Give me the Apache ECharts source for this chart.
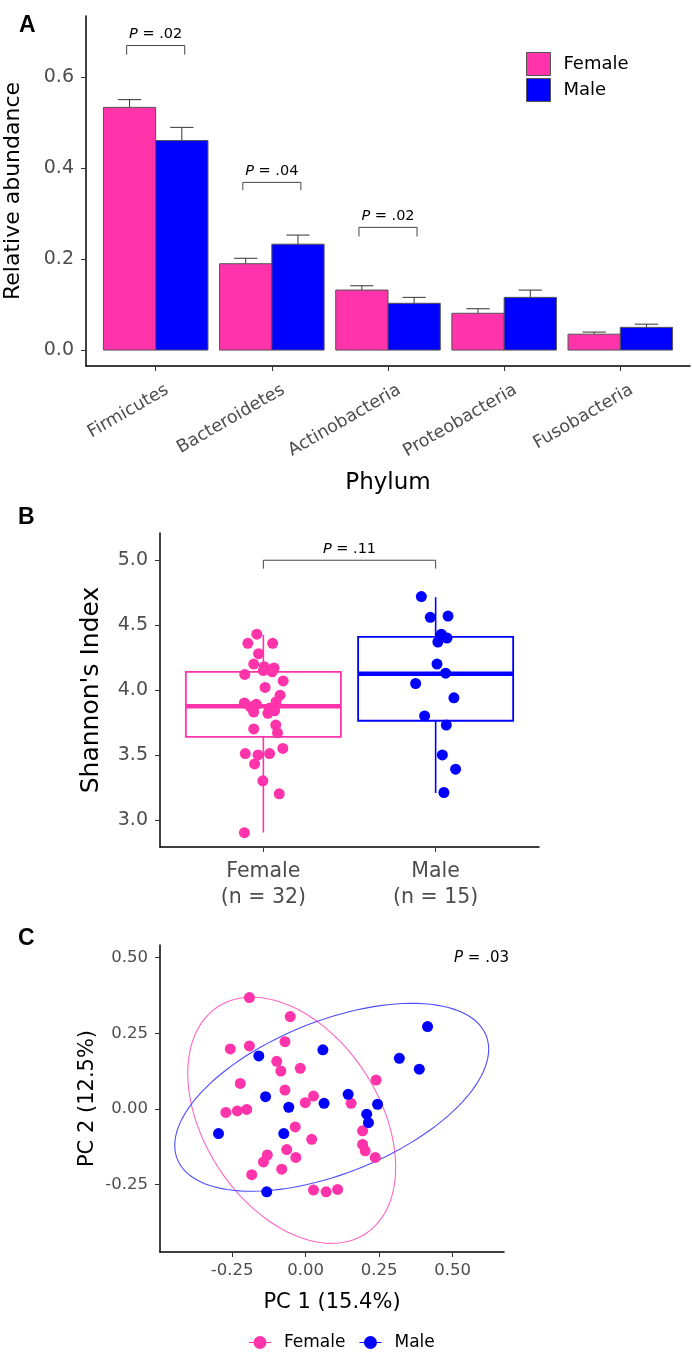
<!DOCTYPE html>
<html><head><meta charset="utf-8">
<script src="https://cdn.jsdelivr.net/npm/echarts@6/dist/echarts.min.js"></script>
<style>html,body{margin:0;padding:0;background:#fff}#c{width:692px;height:1355px}</style>
</head><body><div id="c"></div>
<script>
// ---------- Panel A data ----------
const phyla = ['Firmicutes', 'Bacteroidetes', 'Actinobacteria', 'Proteobacteria', 'Fusobacteria'];
const femaleMean = [0.534, 0.190, 0.132, 0.081, 0.035];
const femaleErrTop = [0.551, 0.202, 0.1415, 0.091, 0.0396];
const maleMean = [0.461, 0.233, 0.103, 0.116, 0.050];
const maleErrTop = [0.490, 0.253, 0.116, 0.132, 0.057];
const bracketCats = [1, 2, 3];
const bracketTop = [0.670, 0.369, 0.270];
const bracketFoot = [0.650, 0.352, 0.250];
const bracketP = ['.02', '.04', '.02'];
const abundanceTicks = [0, 0.2, 0.4, 0.6];

// ---------- Panel B data ----------
const groupLabels = ['Female\n(n = 32)', 'Male\n(n = 15)'];
const femaleBox = [2.902, 3.638, 3.874, 4.139, 4.426];
const maleBox = [3.206, 3.763, 4.126, 4.409, 4.715];
const femaleShannon = [[-0.038,4.43],[-0.090,4.36],[0.054,4.36],[-0.028,4.28],[-0.056,4.20],[0.005,4.18],[0.062,4.17],[0.051,4.14],[-0.108,4.12],[0.000,4.15],[0.115,4.07],[0.010,4.02],[0.097,3.96],[-0.110,3.90],[-0.041,3.89],[0.074,3.91],[0.036,3.86],[-0.075,3.87],[-0.056,3.83],[0.026,3.82],[0.065,3.84],[-0.056,3.70],[0.072,3.73],[0.082,3.67],[-0.105,3.51],[-0.031,3.50],[0.036,3.51],[0.113,3.55],[-0.051,3.43],[-0.003,3.30],[0.092,3.20],[-0.110,2.90]];
const maleShannon = [[-0.083,4.72],[-0.031,4.56],[0.072,4.57],[0.033,4.43],[0.066,4.40],[0.013,4.37],[0.008,4.20],[0.058,4.13],[-0.116,4.05],[0.106,3.94],[-0.064,3.80],[0.062,3.73],[0.039,3.50],[0.116,3.39],[0.048,3.21]];
const shannonTicks = [3.0, 3.5, 4.0, 4.5, 5.0];
const shannonBracket = [5.0, 4.935];
const shannonP = '.11';

// ---------- Panel C data ----------
const femalePC = [[-0.191,0.368],[-0.052,0.305],[-0.256,0.198],[-0.191,0.208],[-0.070,0.222],[-0.098,0.157],[-0.084,0.125],[-0.018,0.134],[0.240,0.095],[-0.222,0.084],[-0.070,0.062],[0.027,0.042],[-0.001,0.020],[0.155,0.018],[-0.271,-0.012],[-0.232,-0.007],[-0.200,-0.002],[-0.035,-0.060],[0.021,-0.101],[0.194,-0.073],[0.194,-0.118],[0.203,-0.139],[0.237,-0.161],[-0.064,-0.135],[-0.033,-0.161],[-0.130,-0.153],[-0.143,-0.176],[-0.081,-0.200],[-0.183,-0.218],[0.027,-0.269],[0.070,-0.275],[0.109,-0.267]];
const malePC = [[0.415,0.272],[0.319,0.167],[0.387,0.131],[0.059,0.195],[-0.159,0.175],[-0.136,0.040],[-0.057,0.005],[0.063,0.018],[0.145,0.048],[0.245,0.015],[0.208,-0.018],[0.214,-0.046],[-0.296,-0.082],[-0.074,-0.082],[-0.132,-0.275]];
// ellipse: centre x, centre y, var x, var y, cov xy (read from the drawn ellipses)
const femaleEllipse = [-0.047, -0.038, 0.125, 0.166, -0.055];
const maleEllipse = [0.089, 0.038, 0.285, 0.0967, 0.085];
const pcTicks = [-0.25, 0, 0.25, 0.5];
const pcP = '.03';

// ---------- styles ----------
const FONT = 'DejaVu Sans';
const PINK = '#FF33AA';
const BLUE = '#0000FF';
const TICKC = '#4D4D4D';
const LABEL_SHIFT = 0.06; // rotated phylum labels sit slightly right of their ticks

function axis(extra) {
  const base = {
    axisLine: {show: true, onZero: false, lineStyle: {color: '#000', width: 1.5}},
    axisTick: {show: true, length: 5, lineStyle: {color: '#333', width: 1}},
    splitLine: {show: false},
    nameTextStyle: {fontFamily: FONT, color: '#000'}
  };
  return Object.assign(base, extra);
}

function barRender(offset, color) {
  return function (params, api) {
    const c = api.value(0), m = api.value(1), e = api.value(2);
    const x = c + offset;
    const p0 = api.coord([x - 0.225, 0]);
    const p1 = api.coord([x + 0.225, m]);
    const pm = api.coord([x, m]);
    const pe = api.coord([x, e]);
    const cl = api.coord([x - 0.1, e]);
    const cr = api.coord([x + 0.1, e]);
    return {type: 'group', children: [
      {type: 'line', shape: {x1: pm[0], y1: pm[1], x2: pe[0], y2: pe[1]}, style: {stroke: '#333', lineWidth: 1}},
      {type: 'line', shape: {x1: cl[0], y1: cl[1], x2: cr[0], y2: cr[1]}, style: {stroke: '#333', lineWidth: 1}},
      {type: 'rect', shape: {x: p0[0], y: p1[1], width: p1[0] - p0[0], height: p0[1] - p1[1]}, style: {fill: color, stroke: '#555', lineWidth: 1}}
    ]};
  };
}

function bracketRender(labels, fs) {
  return function (params, api) {
    const x1 = api.value(0), x2 = api.value(1), top = api.value(2), foot = api.value(3);
    const a = api.coord([x1, foot]), b = api.coord([x1, top]), c = api.coord([x2, top]), d = api.coord([x2, foot]);
    return {type: 'group', children: [
      {type: 'polyline', shape: {points: [a, b, c, d]}, style: {stroke: '#444', lineWidth: 1, fill: null}},
      {type: 'text', x: (b[0] + c[0]) / 2, y: b[1] - 4,
        style: {text: '{i|P} = ' + labels[params.dataIndex], align: 'center', verticalAlign: 'bottom',
          textAlign: 'center', textVerticalAlign: 'bottom',
          fontSize: fs, fontFamily: FONT, fill: '#000',
          rich: {i: {fontStyle: 'italic', fontSize: fs, fontFamily: FONT, fill: '#000'}}}}
    ]};
  };
}

function boxRender(color) {
  return function (params, api) {
    const x = api.value(0), mn = api.value(1), q1 = api.value(2), md = api.value(3), q3 = api.value(4), mx = api.value(5);
    const a = api.coord([x - 0.45, q3]), b = api.coord([x + 0.45, q1]);
    const ml = api.coord([x - 0.45, md]), mr = api.coord([x + 0.45, md]);
    const wmin = api.coord([x, mn]), wq1 = api.coord([x, q1]), wq3 = api.coord([x, q3]), wmax = api.coord([x, mx]);
    return {type: 'group', children: [
      {type: 'line', shape: {x1: wq3[0], y1: wq3[1], x2: wmax[0], y2: wmax[1]}, style: {stroke: color, lineWidth: 1.6}},
      {type: 'line', shape: {x1: wq1[0], y1: wq1[1], x2: wmin[0], y2: wmin[1]}, style: {stroke: color, lineWidth: 1.6}},
      {type: 'rect', shape: {x: a[0], y: a[1], width: b[0] - a[0], height: b[1] - a[1]}, style: {fill: 'rgba(255,255,255,0)', stroke: color, lineWidth: 1.8}},
      {type: 'line', shape: {x1: ml[0], y1: ml[1], x2: mr[0], y2: mr[1]}, style: {stroke: color, lineWidth: 4.5}}
    ]};
  };
}

function ellipseRender(color) {
  return function (params, api) {
    const cx = api.value(0), cy = api.value(1), sxx = api.value(2), syy = api.value(3), sxy = api.value(4);
    const l11 = Math.sqrt(sxx), l21 = sxy / l11, l22 = Math.sqrt(syy - l21 * l21);
    const pts = [];
    for (let k = 0; k <= 120; k++) {
      const t = 2 * Math.PI * k / 120;
      const u = Math.cos(t), v = Math.sin(t);
      pts.push(api.coord([cx + l11 * u, cy + l21 * u + l22 * v]));
    }
    return {type: 'polyline', shape: {points: pts}, style: {stroke: color, lineWidth: 1.1, fill: null}};
  };
}

// build rows
const femaleBars = phyla.map((p, i) => [i + 1, femaleMean[i], femaleErrTop[i]]);
const maleBars = phyla.map((p, i) => [i + 1, maleMean[i], maleErrTop[i]]);
const bracketRows = bracketCats.map((c, i) => [c - 0.25, c + 0.25, bracketTop[i], bracketFoot[i]]);
const femaleShannonPts = femaleShannon.map(d => [1 + d[0], d[1]]);
const maleShannonPts = maleShannon.map(d => [2 + d[0], d[1]]);
const phylumTickPos = phyla.map((p, i) => i + 1);
const phylumLabelPos = phyla.map((p, i) => i + 1 + LABEL_SHIFT);

const legendIconC = 'path://M0,6 L22,6 L22,7 L0,7 Z M4.5,6.5 A6.5,6.5 0 1 1 17.5,6.5 A6.5,6.5 0 1 1 4.5,6.5 Z';
const panelLetter = {fontFamily: 'Liberation Sans', fontWeight: 'bold', fontSize: 23, color: '#000'};

const option = {
  animation: false,
  backgroundColor: '#fff',
  title: [
    {text: 'A', left: 19, top: 14, padding: 0, textStyle: panelLetter},
    {text: 'B', left: 18, top: 506, padding: 0, textStyle: panelLetter},
    {text: 'C', left: 18, top: 927, padding: 0, textStyle: panelLetter}
  ],
  legend: [
    {orient: 'vertical', left: 526, top: 52, padding: 0, itemWidth: 24, itemHeight: 23, itemGap: 2, selectedMode: false,
      textStyle: {fontFamily: FONT, fontSize: 18, color: '#000', padding: [0, 0, 0, 8]},
      data: [
        {name: 'Female', icon: 'rect', itemStyle: {color: PINK, borderColor: '#555', borderWidth: 1}},
        {name: 'Male', icon: 'rect', itemStyle: {color: BLUE, borderColor: '#555', borderWidth: 1}}
      ]},
    {orient: 'horizontal', left: 249, top: 1334, padding: 0, itemWidth: 22, itemHeight: 13, itemGap: 14, selectedMode: false,
      textStyle: {fontFamily: FONT, fontSize: 17, color: '#000', padding: [0, 0, 0, 8]},
      data: [
        {name: 'Female', icon: legendIconC, itemStyle: {color: PINK, borderWidth: 0}},
        {name: 'Male', icon: legendIconC, itemStyle: {color: BLUE, borderWidth: 0}}
      ]}
  ],
  grid: [
    {left: 86, top: 16, width: 604, height: 350, outerBoundsMode: 'none', containLabel: false},
    {left: 160, top: 533, width: 379, height: 314, outerBoundsMode: 'none', containLabel: false},
    {left: 160, top: 945, width: 344, height: 307, outerBoundsMode: 'none', containLabel: false}
  ],
  xAxis: [
    axis({gridIndex: 0, type: 'value', min: 0.4, max: 5.6,
      name: 'Phylum', nameLocation: 'middle', nameGap: 106, nameTextStyle: {fontFamily: FONT, fontSize: 23, color: '#000'},
      axisTick: {show: true, length: 5, customValues: phylumTickPos, lineStyle: {color: '#333', width: 1}},
      axisLabel: {customValues: phylumLabelPos, rotate: 30, margin: 15, align: 'right', verticalAlign: 'top',
        fontFamily: FONT, fontSize: 17.5, color: TICKC,
        formatter: v => phyla[Math.round(v) - 1]}}),
    axis({gridIndex: 1, type: 'value', min: 0.4, max: 2.6,
      axisTick: {show: true, length: 5, customValues: [1, 2], lineStyle: {color: '#333', width: 1}},
      axisLabel: {customValues: [1, 2], margin: 12, fontFamily: FONT, fontSize: 20.5, color: TICKC, lineHeight: 26, align: 'center',
        formatter: v => groupLabels[Math.round(v) - 1]}}),
    axis({gridIndex: 2, type: 'value', min: -0.495, max: 0.675,
      name: 'PC 1 (15.4%)', nameLocation: 'middle', nameGap: 40, nameTextStyle: {fontFamily: FONT, fontSize: 21, color: '#000'},
      axisTick: {show: true, length: 5, customValues: pcTicks, lineStyle: {color: '#333', width: 1}},
      axisLabel: {customValues: pcTicks, margin: 10, fontFamily: FONT, fontSize: 16.5, color: TICKC,
        formatter: v => v.toFixed(2)}})
  ],
  yAxis: [
    axis({gridIndex: 0, type: 'value', min: -0.035, max: 0.735,
      name: 'Relative abundance', nameLocation: 'middle', nameGap: 62, nameTextStyle: {fontFamily: FONT, fontSize: 22, color: '#000'},
      axisTick: {show: true, length: 5, customValues: abundanceTicks, lineStyle: {color: '#333', width: 1}},
      axisLabel: {customValues: abundanceTicks, margin: 12, fontFamily: FONT, fontSize: 19, color: TICKC,
        formatter: v => v.toFixed(1)}}),
    axis({gridIndex: 1, type: 'value', min: 2.79, max: 5.21,
      name: "Shannon's Index", nameLocation: 'middle', nameGap: 56, nameTextStyle: {fontFamily: FONT, fontSize: 25, color: '#000'},
      axisTick: {show: true, length: 5, customValues: shannonTicks, lineStyle: {color: '#333', width: 1}},
      axisLabel: {customValues: shannonTicks, margin: 12, fontFamily: FONT, fontSize: 19, color: TICKC,
        formatter: v => v.toFixed(1)}}),
    axis({gridIndex: 2, type: 'value', min: -0.474, max: 0.542,
      name: 'PC 2 (12.5%)', nameLocation: 'middle', nameGap: 62, nameTextStyle: {fontFamily: FONT, fontSize: 21, color: '#000'},
      axisTick: {show: true, length: 5, customValues: pcTicks, lineStyle: {color: '#333', width: 1}},
      axisLabel: {customValues: pcTicks, margin: 12, fontFamily: FONT, fontSize: 16.5, color: TICKC,
        formatter: v => v.toFixed(2)}})
  ],
  series: [
    // Panel A
    {name: 'Female', type: 'custom', xAxisIndex: 0, yAxisIndex: 0, itemStyle: {color: PINK},
      renderItem: barRender(-0.225, PINK), data: femaleBars, encode: {x: 0, y: 1}},
    {name: 'Male', type: 'custom', xAxisIndex: 0, yAxisIndex: 0, itemStyle: {color: BLUE},
      renderItem: barRender(0.225, BLUE), data: maleBars, encode: {x: 0, y: 1}},
    {name: 'brackets', type: 'custom', xAxisIndex: 0, yAxisIndex: 0,
      renderItem: bracketRender(bracketP, 14.5), data: bracketRows, encode: {x: 0, y: 2}},
    // Panel B
    {name: 'Female', type: 'custom', xAxisIndex: 1, yAxisIndex: 1, itemStyle: {color: PINK},
      renderItem: boxRender(PINK), data: [[1].concat(femaleBox)], encode: {x: 0, y: 3}},
    {name: 'Male', type: 'custom', xAxisIndex: 1, yAxisIndex: 1, itemStyle: {color: BLUE},
      renderItem: boxRender(BLUE), data: [[2].concat(maleBox)], encode: {x: 0, y: 3}},
    {name: 'Female', type: 'scatter', xAxisIndex: 1, yAxisIndex: 1, symbol: 'circle', symbolSize: 11,
      itemStyle: {color: PINK, opacity: 1}, data: femaleShannonPts},
    {name: 'Male', type: 'scatter', xAxisIndex: 1, yAxisIndex: 1, symbol: 'circle', symbolSize: 11,
      itemStyle: {color: BLUE, opacity: 1}, data: maleShannonPts},
    {name: 'bracketB', type: 'custom', xAxisIndex: 1, yAxisIndex: 1,
      renderItem: bracketRender([shannonP], 14.5), data: [[1, 2, shannonBracket[0], shannonBracket[1]]], encode: {x: 0, y: 2}},
    // Panel C
    {name: 'Female', type: 'scatter', xAxisIndex: 2, yAxisIndex: 2, symbol: 'circle', symbolSize: 11,
      itemStyle: {color: PINK, opacity: 1}, data: femalePC},
    {name: 'Male', type: 'scatter', xAxisIndex: 2, yAxisIndex: 2, symbol: 'circle', symbolSize: 11,
      itemStyle: {color: BLUE, opacity: 1}, data: malePC},
    {name: 'Female', type: 'custom', xAxisIndex: 2, yAxisIndex: 2, itemStyle: {color: PINK},
      renderItem: ellipseRender('#FF66C4'), data: [femaleEllipse], encode: {x: 0, y: 1}},
    {name: 'Male', type: 'custom', xAxisIndex: 2, yAxisIndex: 2, itemStyle: {color: BLUE},
      renderItem: ellipseRender('#4D4DFF'), data: [maleEllipse], encode: {x: 0, y: 1}}
  ],
  graphic: [
    {type: 'text', left: 454, top: 951,
      style: {text: '{i|P} = ' + pcP, fontSize: 15, fontFamily: FONT, fill: '#000',
        rich: {i: {fontStyle: 'italic', fontSize: 15, fontFamily: FONT, fill: '#000'}}}}
  ]
};

const chart = echarts.init(document.getElementById('c'), null, {renderer: 'canvas'});
chart.setOption(option);
</script></body></html>
